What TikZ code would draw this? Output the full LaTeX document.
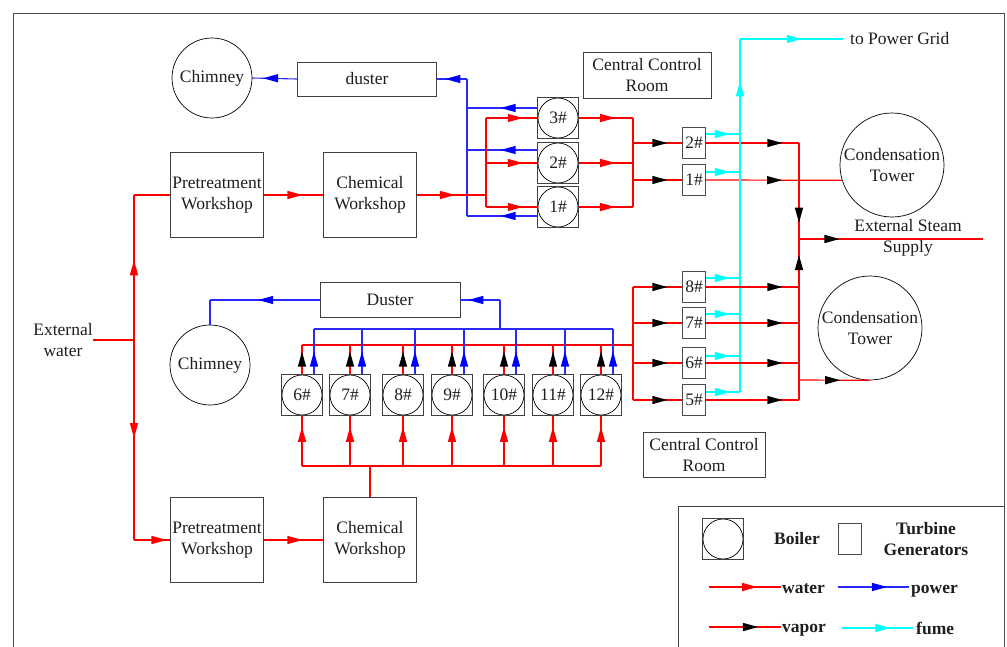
\documentclass[tikz,border=0pt]{standalone}
\usepackage{fontspec}
\setmainfont{Liberation Serif}
\newfontfamily\tms{Liberation Serif}
\usetikzlibrary{calc}
\definecolor{wred}{RGB}{255,0,0}
\definecolor{pblue}{RGB}{40,40,255}
\definecolor{aqua}{RGB}{0,255,255}
\definecolor{ink}{RGB}{30,30,30}
\begin{document}
\begin{tikzpicture}[x=1pt,y=-1pt,
  every node/.style={font=\tms\fontsize{17.5}{21}\selectfont, inner sep=0pt, align=center, text=ink},
  box/.style={draw=black!75, line width=0.8pt},
  boiler/.style={draw=black!75, line width=0.8pt, minimum size=41pt,
    path picture={\draw[black, line width=0.7pt] (path picture bounding box.center) circle (20pt);}},
  turb/.style={draw=black!70, line width=0.8pt, minimum width=23pt, minimum height=31pt},
  ring/.style={draw=black, circle, line width=0.7pt},
  leg/.style={font=\tms\bfseries\fontsize{17.5}{21}\selectfont},
  water/.style={draw=wred, line width=1.2pt},
  pow/.style={draw=pblue, line width=1.1pt},
  fum/.style={draw=aqua, line width=1.2pt},
  tipR/.pic={\fill[#1] (0,0) -- (-15,-4.2) -- (-15,4.2) -- cycle;},
  tipL/.pic={\fill[#1] (0,0) -- (15,-4.2) -- (15,4.2) -- cycle;},
  tipU/.pic={\fill[#1] (0,0) -- (-4.2,15) -- (4.2,15) -- cycle;},
  tipD/.pic={\fill[#1] (0,0) -- (-4.2,-15) -- (4.2,-15) -- cycle;},
]
\useasboundingbox (0,0) rectangle (1007,646);
\draw[black!70, line width=0.8pt] (13,660) -- (13,13) -- (1004,13) -- (1004,660);

% ---------- top section ----------
\node[ring, minimum size=80pt] (chim1) at (212,78) {Chimney};
\node[box, minimum width=139pt, minimum height=34pt] (dust1) at (367,79) {duster};
\node[box, minimum width=128pt, minimum height=46pt] (ccr1) at (647,75) {Central Control\\Room};
\node[boiler] (b3) at (558,118) {3\#};
\node[boiler] (b2) at (558,163) {2\#};
\node[boiler] (b1) at (558,207) {1\#};
\node[turb] (t2) at (694,143) {2\#};
\node[turb] (t1) at (694,180) {1\#};
\node[ring, minimum size=104pt] (ct1) at (892,165) {Condensation\\Tower};
\node[box, minimum width=93pt, minimum height=85pt] (pre1) at (217,195) {Pretreatment\\Workshop};
\node[box, minimum width=93pt, minimum height=85pt] (chem1) at (370,195) {Chemical\\Workshop};

% power (blue) top
\coordinate (pb0) at (467,79);
\coordinate (pb3) at (467,108);
\coordinate (pb2) at (467,150);
\coordinate (pb1) at (467,216);
\coordinate (pf3) at ([yshift=10pt]b3.west);
\coordinate (pf2) at ([yshift=13pt]b2.west);
\coordinate (pf1) at ([yshift=-9pt]b1.west);
\draw[pow] (pb0) -- (pb1);
\draw[pow] (pb0) -- (dust1.east);
\pic at ($(pb0)!0.72!(dust1.east)$) {tipL=blue};
\draw[pow] (dust1.west) -- (chim1.east);
\pic at ($(dust1.west)!0.76!(chim1.east)$) {tipL=blue};
\foreach \k in {1,2,3} {
  \draw[pow] (pf\k) -- (pb\k);
  \pic at ($(pf\k)!0.52!(pb\k)$) {tipL=blue};
}

% water top
\coordinate (wr0) at (486,195);
\coordinate (wr3) at (486,118);
\coordinate (wr2) at (486,163);
\coordinate (wr1) at (486,207);
\draw[water] (pre1.east) -- (chem1.west);
\pic at ($(pre1.east)!0.65!(chem1.west)$) {tipR=wred};
\draw[water] (chem1.east) -- (wr0);
\pic at ($(chem1.east)!0.55!(wr0)$) {tipR=wred};
\draw[water] (wr3) -- (wr1);
\coordinate (vr3) at (633,118);
\coordinate (vr2) at (633,163);
\coordinate (vr1) at (633,207);
\foreach \k in {1,2,3} {
  \draw[water] (wr\k) -- (b\k.west);
  \pic at ($(wr\k)!0.72!(b\k.west)$) {tipR=wred};
  \draw[water] (b\k.east) -- (vr\k);
  \pic at ($(b\k.east)!0.67!(vr\k)$) {tipR=wred};
}
\draw[water] (vr3) -- (vr1);
\coordinate (vt2) at (633,143);
\coordinate (vt1) at (633,180);
\draw[water] (vt2) -- (t2.west);
\pic at ($(vt2)!0.7!(t2.west)$) {tipR=black};
\draw[water] (vt1) -- (t1.west);
\pic at ($(vt1)!0.7!(t1.west)$) {tipR=black};

% turbine outputs
\coordinate (s2) at (799,143);
\coordinate (sj) at (799,239);
\coordinate (s5) at (799,400);
\coordinate (se) at (983,239);
\draw[water] (t2.east) -- (s2);
\pic at ($(t2.east)!0.82!(s2)$) {tipR=black};
\draw[water] (s2) -- (sj);
\pic at ($(s2)!0.83!(sj)$) {tipD=black};
\draw[water] (t1.east) -- (ct1.197);
\pic at ($(t1.east)!0.56!(ct1.197)$) {tipR=black};
\draw[water] (sj) -- (se);
\pic at ($(sj)!0.22!(se)$) {tipR=black};
\draw[water] (s5) -- (sj);
\pic at ($(s5)!0.9!(sj)$) {tipU=black};
\node (steam) at (908,238) {External Steam\\Supply};

% fume (cyan)
\coordinate (c5) at (740,392);
\coordinate (ctop) at (740,39);
\coordinate (cend) at (843,39);
\draw[fum] (c5) -- (ctop);
\pic at ($(c5)!0.88!(ctop)$) {tipU=aqua};
\draw[fum] (ctop) -- (cend);
\pic at ($(ctop)!0.6!(cend)$) {tipR=aqua};
\node[anchor=west] (grid) at (850,39) {to Power Grid};
\coordinate (cs2) at ([yshift=9pt]t2.east);
\coordinate (cs1) at ([yshift=8pt]t1.east);
\foreach \k in {1,2} {
  \draw[fum] (cs\k) -- (c5 |- cs\k);
  \pic at ($(cs\k)!0.7!(c5 |- cs\k)$) {tipR=aqua};
}

% ---------- left / external water ----------
\node (ext) at (63,340) {External\\water};
\coordinate (wj) at (134,340);
\coordinate (wt) at (134,195);
\coordinate (wbt) at (134,540);
\node[box, minimum width=93pt, minimum height=85pt] (pre2) at (217,540) {Pretreatment\\Workshop};
\node[box, minimum width=93pt, minimum height=85pt] (chem2) at (370,540) {Chemical\\Workshop};
\draw[water] (ext.east) -- (wj);
\draw[water] (wj) -- (wt);
\pic at ($(wj)!0.55!(wt)$) {tipU=wred};
\draw[water] (wt) -- (pre1.west);
\draw[water] (wj) -- (wbt);
\pic at ($(wj)!0.49!(wbt)$) {tipD=wred};
\draw[water] (wbt) -- (pre2.west);
\pic at ($(wbt)!0.9!(pre2.west)$) {tipR=wred};
\draw[water] (pre2.east) -- (chem2.west);
\pic at ($(pre2.east)!0.65!(chem2.west)$) {tipR=wred};

% ---------- bottom section ----------
\node[ring, minimum size=80pt] (chim2) at (210,365) {Chimney};
\node[box, minimum width=140pt, minimum height=35pt] (dust2) at (390,300) {Duster};
\foreach \n/\x in {6/302,7/350,8/403,9/452,10/504,11/553,12/601}
  {\node[boiler] (b\n) at (\x,395) {\n\#};}

\coordinate (wb) at (370,466);
\coordinate (wbl) at (302,466);
\coordinate (wbr) at (601,466);
\coordinate (rbl) at (302,345);
\coordinate (rbr) at (633,345);
\coordinate (bbl) at (314,329);
\coordinate (bbr) at (613,329);
\coordinate (bbu) at (500,329);
\coordinate (bbt) at (500,300);
\coordinate (dcl) at (210,300);
\draw[water] (chem2.north) -- (wb);
\draw[water] (wbl) -- (wbr);
\draw[water] (rbl) -- (rbr);
\draw[pow] (bbl) -- (bbr);
\draw[pow] (bbu) -- (bbt);
\draw[pow] (bbt) -- (dust2.east);
\pic at ($(bbt)!0.8!(dust2.east)$) {tipL=blue};
\draw[pow] (dust2.west) -- (dcl);
\pic at ($(dust2.west)!0.56!(dcl)$) {tipL=blue};
\draw[pow] (dcl) -- (chim2.north);

\foreach \n in {6,...,12} {
  \coordinate (bt\n) at ([xshift=12pt]b\n.north);
  \coordinate (bw\n) at (b\n.south |- wbl);
  \coordinate (br\n) at (b\n.north |- rbl);
  \coordinate (bb\n) at (bt\n |- bbl);
  \draw[water] (bw\n) -- (b\n.south);
  \pic at ($(bw\n)!0.78!(b\n.south)$) {tipU=wred};
  \draw[water] (b\n.north) -- (br\n);
  \pic at ($(b\n.north)!0.77!(br\n)$) {tipU=black};
  \draw[pow] (bt\n) -- (bb\n);
  \pic at ($(bt\n)!0.5!(bb\n)$) {tipU=blue};
}

% bottom turbines
\foreach \n/\y in {8/287,7/323,6/363,5/400}
  {\node[turb] (t\n) at (694,\y) {\n\#};}
\coordinate (vr8) at (633,287);
\coordinate (vr5) at (633,400);
\draw[water] (vr8) -- (vr5);
\foreach \n in {8,7,6,5} {
  \coordinate (ti\n) at (vr8 |- t\n.west);
  \coordinate (to\n) at (s5 |- t\n.east);
  \draw[water] (ti\n) -- (t\n.west);
  \pic at ($(ti\n)!0.7!(t\n.west)$) {tipR=black};
  \draw[water] (t\n.east) -- (to\n);
  \pic at ($(t\n.east)!0.82!(to\n)$) {tipR=black};
}
\foreach \n/\d in {8/9,7/9,6/7,5/8} {
  \coordinate (cs\n) at ([yshift=\d pt]t\n.east);
  \coordinate (ce\n) at (c5 |- cs\n);
  \draw[fum] (cs\n) -- (ce\n);
  \pic at ($(cs\n)!0.7!(ce\n)$) {tipR=aqua};
}
\node[ring, minimum size=104pt] (ct2) at (870,328) {Condensation\\Tower};
\coordinate (sc) at (799,380);
\draw[water] (sc) -- (ct2.south);
\pic at ($(sc)!0.58!(ct2.south)$) {tipR=black};
\node[box, minimum width=122pt, minimum height=45pt] (ccr2) at (704,455) {Central Control\\Room};

% ---------- legend ----------
\draw[black!75, line width=0.8pt] (678,660) -- (678,506) -- (1004,506);
\node[boiler] (lb) at (723,539) {};
\node[leg] (lbt) at (797,539) {Boiler};
\node[turb] (lt) at (850,539) {};
\node[leg] (ltt) at (926,539) {Turbine\\Generators};
\coordinate (lw0) at (709,587);
\coordinate (lw1) at (781,587);
\coordinate (lp0) at (838,587);
\coordinate (lp1) at (909,587);
\coordinate (lv0) at (709,627);
\coordinate (lv1) at (781,627);
\coordinate (lf0) at (842,628);
\coordinate (lf1) at (913,628);
\draw[water] (lw0) -- (lw1);
\pic at ($(lw0)!0.67!(lw1)$) {tipR=wred};
\draw[pow] (lp0) -- (lp1);
\pic at ($(lp0)!0.69!(lp1)$) {tipR=blue};
\draw[water] (lv0) -- (lv1);
\pic at ($(lv0)!0.68!(lv1)$) {tipR=black};
\draw[fum] (lf0) -- (lf1);
\pic at ($(lf0)!0.68!(lf1)$) {tipR=aqua};
\node[leg, anchor=base west] (lwt) at (782,593) {water};
\node[leg, anchor=base west] (lpt) at (911,593) {power};
\node[leg, anchor=base west] (lvt) at (782,632) {vapor};
\node[leg, anchor=base west] (lft) at (916,634) {fume};
\end{tikzpicture}
\end{document}
